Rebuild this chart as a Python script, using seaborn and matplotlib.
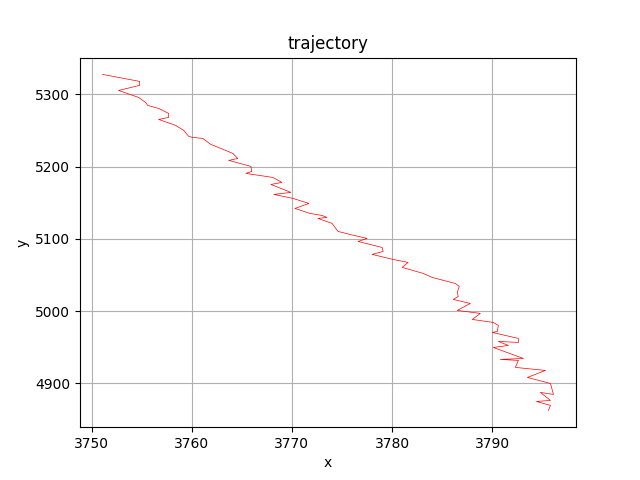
import seaborn as sns
import matplotlib
matplotlib.use("Agg")
import matplotlib.pyplot as plt
import pandas as pd

xs = [3751.1, 3754.8, 3754.8, 3752.7, 3754.7, 3755.4, 3755.6, 3756.7, 3757.7, 3757.7,
      3756.7, 3758.4, 3759.2, 3759.7, 3760.1, 3761.1, 3761.9, 3762.9, 3764.1, 3764.6,
      3763.7, 3765.9, 3766.0, 3765.4, 3768.1, 3769.0, 3767.9, 3769.9, 3768.2, 3770.1,
      3771.7, 3770.3, 3771.8, 3773.0, 3773.5, 3772.6, 3774.0, 3774.6, 3775.8, 3777.5,
      3776.6, 3779.0, 3779.1, 3778.0, 3780.1, 3781.6, 3781.0, 3783.1, 3784.0, 3786.3,
      3786.7, 3786.5, 3786.6, 3786.1, 3787.8, 3786.5, 3788.8, 3788.0, 3790.1, 3790.6,
      3790.5, 3790.0, 3792.6, 3792.6, 3790.6, 3791.6, 3790.1, 3793.1, 3790.8, 3792.6,
      3792.3, 3795.3, 3793.5, 3795.8, 3796.1, 3794.8, 3795.8, 3794.4, 3795.8, 3795.6]
ys = [5327.7, 5318.0, 5312.5, 5305.5, 5295.8, 5288.9, 5284.8, 5280.6, 5273.7, 5268.2,
      5265.4, 5257.1, 5250.2, 5241.9, 5240.5, 5239.1, 5230.8, 5225.3, 5218.3, 5211.4,
      5208.7, 5200.4, 5193.4, 5190.7, 5185.1, 5178.2, 5175.4, 5164.4, 5161.6, 5156.1,
      5149.1, 5142.2, 5135.3, 5132.5, 5129.8, 5128.4, 5121.5, 5110.4, 5106.2, 5100.7,
      5096.5, 5088.2, 5082.7, 5078.6, 5071.6, 5067.5, 5060.6, 5052.3, 5046.7, 5038.4,
      5034.3, 5026.0, 5020.4, 5016.3, 5010.7, 5001.1, 4996.9, 4988.6, 4984.4, 4980.3,
      4972.0, 4970.6, 4962.3, 4956.8, 4958.1, 4952.6, 4949.8, 4934.6, 4933.2, 4931.9,
      4922.2, 4918.0, 4908.3, 4900.0, 4884.8, 4887.6, 4876.5, 4875.1, 4869.6, 4862.7]

df = pd.DataFrame({"x": xs, "y": ys})
fig, ax = plt.subplots(figsize=(6.4, 4.8), dpi=100)
sns.lineplot(data=df, x="x", y="y", sort=False, estimator=None, color="red", linewidth=0.5, ax=ax)
ax.grid(True)
ax.set_title("trajectory")
ax.set_xlabel("x")
ax.set_ylabel("y")
fig.savefig("out.png")
